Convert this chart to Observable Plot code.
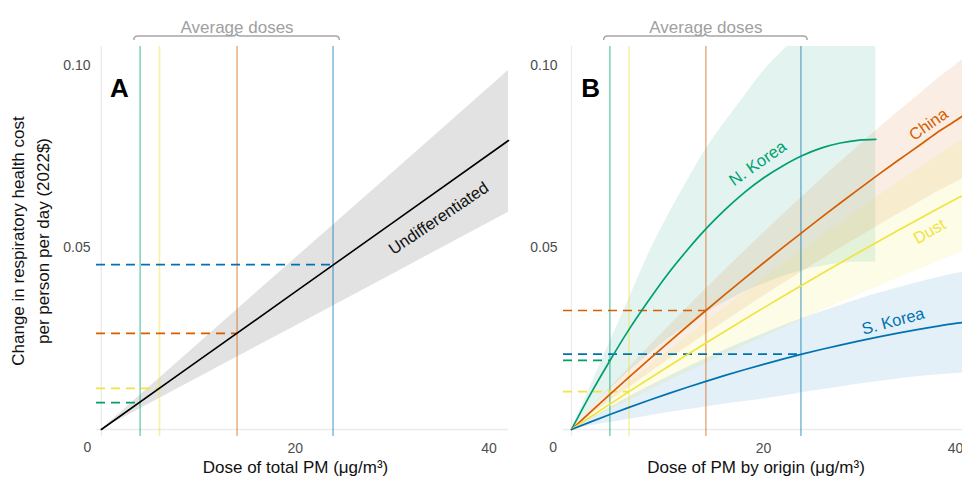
<!DOCTYPE html>
<html><head><meta charset="utf-8">
<script src="https://cdn.jsdelivr.net/npm/d3@7"></script>
<script src="https://cdn.jsdelivr.net/npm/@observablehq/plot@0.6"></script>
<style>
body{margin:0;background:#fff;}
#wrap{position:relative;width:962px;height:483px;overflow:hidden;font-family:"Liberation Sans",Arial,sans-serif;}
#wrap svg{position:absolute;top:0;overflow:visible;}
#ytitle{position:absolute;left:30.5px;top:241px;transform:translate(-50%,-50%) rotate(-90deg);white-space:nowrap;text-align:center;font-size:17px;line-height:25px;color:#111;}
</style></head><body><div id="wrap"><div id="ytitle">Change in respiratory health cost<br>per person per day (2022$)</div></div>
<script>
// ---- data ----
const sources = ["N. Korea", "China", "Dust", "S. Korea"];
const sourceColors = ["#009E73", "#D55E00", "#F0E442", "#0072B2"];
const avgDose = [4.0, 14.0, 6.0, 23.9];
const costAtDoseA = [0.0074, 0.0264, 0.0113, 0.0453];
const costAtDoseB = [0.0190, 0.0327, 0.0104, 0.0207];

// Panel A: undifferentiated
const doseA = [0, 10, 20, 30, 42];
const undiffMid = [0, 0.0189, 0.0378, 0.0567, 0.0794];
const undiffLo = [0, 0.0142, 0.0284, 0.0426, 0.0597];
const undiffHi = [0, 0.0235, 0.0470, 0.0704, 0.0986];

// Panel B: by origin
const doseNK = [0, 2, 4, 6, 8, 10, 12, 14, 16, 18, 20, 22, 24, 26, 28, 30, 31.7];
const nkMid = [0, 0.0098, 0.0189, 0.0275, 0.0353, 0.0426, 0.0491, 0.0551, 0.0604, 0.0651, 0.0691, 0.0724, 0.0752, 0.0773, 0.0787, 0.0795, 0.0797];
const nkLo = [0, 0.0057, 0.0110, 0.0160, 0.0205, 0.0247, 0.0285, 0.0320, 0.0350, 0.0378, 0.0400, 0.0420, 0.0437, 0.0448, 0.0456, 0.0460, 0.0460];
const nkHi = [0, 0.0120, 0.0240, 0.0360, 0.0480, 0.0585, 0.0680, 0.0770, 0.0845, 0.0915, 0.0985, 0.1040, 0.1090, 0.1135, 0.1180, 0.1220, 0.1250];

const doseB = [0, 2, 4, 6, 8, 10, 12, 14, 16, 18, 20, 22, 24, 26, 28, 30, 32, 34, 36, 38, 40, 41];
const chinaMid = [0, 0.00487, 0.00967, 0.01441, 0.01908, 0.02369, 0.02823, 0.0327, 0.03712, 0.04147, 0.04575, 0.04996, 0.0541, 0.0582, 0.06223, 0.06618, 0.07008, 0.0739, 0.0776, 0.0814, 0.0848, 0.0866];
const chinaLo = [0, 0.0039, 0.00774, 0.01153, 0.01526, 0.01895, 0.02258, 0.02616, 0.0297, 0.03318, 0.0366, 0.03997, 0.04328, 0.04656, 0.04978, 0.05294, 0.05606, 0.05912, 0.06208, 0.06512, 0.06784, 0.06928];
const chinaHi = [0, 0.00575, 0.01141, 0.0170, 0.02251, 0.02795, 0.03331, 0.03859, 0.0438, 0.04893, 0.05399, 0.05895, 0.06384, 0.06868, 0.07343, 0.07809, 0.08269, 0.0872, 0.09157, 0.09605, 0.10006, 0.1022];
const dustMid = [0, 0.0035, 0.00697, 0.0104, 0.01379, 0.01715, 0.02047, 0.02376, 0.02701, 0.03023, 0.03341, 0.03655, 0.03966, 0.04273, 0.04577, 0.04877, 0.05173, 0.05466, 0.05755, 0.06041, 0.06323, 0.0646];
const dustLo = [0, 0.00266, 0.0053, 0.0079, 0.01048, 0.01303, 0.01556, 0.01806, 0.02053, 0.02297, 0.02539, 0.02778, 0.03014, 0.03247, 0.03479, 0.03707, 0.03931, 0.04154, 0.04374, 0.04591, 0.04805, 0.0491];
const dustHi = [0, 0.00434, 0.00864, 0.0129, 0.0171, 0.02127, 0.02538, 0.02946, 0.03349, 0.03749, 0.04143, 0.04532, 0.04918, 0.05299, 0.05675, 0.06047, 0.06415, 0.06778, 0.07136, 0.07491, 0.0784, 0.0801];
const skMid = [0, 0.00209, 0.00412, 0.00608, 0.00797, 0.00979, 0.01155, 0.01324, 0.01487, 0.01642, 0.01791, 0.01933, 0.0207, 0.02198, 0.0232, 0.02436, 0.02544, 0.02647, 0.02742, 0.02831, 0.02914, 0.0295];
const skLo = [0, 0.0010, 0.0019, 0.0028, 0.0037, 0.0046, 0.0054, 0.0062, 0.0070, 0.0077, 0.0084, 0.0092, 0.0101, 0.0109, 0.0117, 0.0125, 0.0132, 0.0139, 0.0145, 0.0150, 0.0154, 0.0156];
const skHi = [0, 0.00307, 0.00606, 0.00894, 0.01172, 0.01439, 0.01698, 0.01946, 0.02186, 0.02414, 0.02633, 0.02842, 0.03043, 0.03231, 0.0341, 0.03581, 0.0374, 0.03891, 0.04031, 0.04162, 0.04284, 0.04337];

const yTicks = [0.05, 0.10];
const xTicks = [20, 40];

// ---- chart ----
const seriesB = [
  {x: doseNK, mid: nkMid, lo: nkLo, hi: nkHi},
  {x: doseB, mid: chinaMid, lo: chinaLo, hi: chinaHi},
  {x: doseB, mid: dustMid, lo: dustLo, hi: dustHi},
  {x: doseB, mid: skMid, lo: skLo, hi: skHi}
].map((s, i) => ({...s, name: sources[i], color: sourceColors[i]}));

const idx4 = d3.range(sources.length);
const gridColor = "#ebebeb";
const tickColor = "#4d4d4d";

function brace(xa, xb, xm) {
  return (index, scales, values, dim) => {
    const x1 = scales.x(xa), x2 = scales.x(xb), xc = scales.x(xm);
    const t = dim.marginTop;
    const yb = t - 10, ye = t - 6, yt = t - 13.5;
    const d = `M${x1},${ye} Q${x1},${yb} ${x1 + 4},${yb} L${xc - 4},${yb} Q${xc},${yb} ${xc},${yt} Q${xc},${yb} ${xc + 4},${yb} L${x2 - 4},${yb} Q${x2},${yb} ${x2},${ye}`;
    return d3.create("svg:path").attr("d", d).attr("fill", "none")
      .attr("stroke", "#a6a6a6").attr("stroke-width", 1.5).node();
  };
}

function common(letter, letterX, titleText, zeroX) {
  return {
    pre: [
      Plot.ruleX([0], {stroke: gridColor, strokeWidth: 1.3}),
      Plot.ruleY([0], {stroke: gridColor, strokeWidth: 1.3})
    ],
    doseLines: [
      Plot.ruleX(idx4, {x: i => avgDose[i], stroke: i => sourceColors[i], strokeOpacity: 0.5, strokeWidth: 1.5})
    ],
    post: [
      Plot.text([letter], {x: () => letterX, y: () => 0.0937, text: d => d, fontSize: 26, fontWeight: "bold", fill: "#000"}),
      brace(3.4, 24.6, 14.0),
      Plot.text(["Average doses"], {x: () => 14.0, frameAnchor: "top", dy: -26, fill: "#a0a0a0", fontSize: 17}),
      Plot.axisY({ticks: yTicks, tickFormat: d => d.toFixed(2), tickSize: 0, tickPadding: 6, fontSize: 14, fill: tickColor, label: null}),
      Plot.axisX({ticks: xTicks, tickSize: 0, tickPadding: 7, fontSize: 14, fill: tickColor, label: null}),
      Plot.text(["0"], {x: () => zeroX, frameAnchor: "bottom", lineAnchor: "top", dy: 6, fontSize: 14, fill: tickColor}),
      Plot.text([titleText], {frameAnchor: "bottom", dy: 36, dx: -7, fontSize: 17, fill: "#111"})
    ]
  };
}

const yDomain = [-0.00192, 0.10522];

// Panel A
const cA = common("A", 1.87, "Dose of total PM (μg/m³)", -1.45);
const idxA = d3.range(doseA.length);
const plotA = Plot.plot({
  width: 515, height: 483,
  marginLeft: 96, marginRight: 7, marginTop: 46, marginBottom: 47,
  x: {domain: [-0.5, 42]},
  y: {domain: yDomain},
  color: {type: "identity"},
  style: {fontFamily: "'Liberation Sans', Arial, sans-serif", background: "transparent", overflow: "visible"},
  marks: [
    ...cA.pre,
    Plot.areaY(idxA, {x: i => doseA[i], y1: i => undiffLo[i], y2: i => undiffHi[i], fill: "#e2e2e2"}),
    ...cA.doseLines,
    Plot.ruleY(idx4, {y: i => costAtDoseA[i], x1: () => -0.5, x2: i => avgDose[i], stroke: i => sourceColors[i], strokeWidth: 1.7, strokeDasharray: "9,6"}),
    Plot.line(idxA, {x: i => doseA[i], y: i => undiffMid[i], stroke: "#000", strokeWidth: 1.6}),
    Plot.text(["Undifferentiated"], {x: () => 34.8, y: () => 0.058, rotate: -34, fontSize: 16.5, fill: "#111"}),
    ...cA.post
  ]
});

// Panel B
const cB = common("B", 2.0, "Dose of PM by origin (μg/m³)", -1.9);
const labelB = [
  {x: 19.4, y: 0.0731, r: -35},
  {x: 37.2, y: 0.0838, r: -35},
  {x: 37.3, y: 0.0544, r: -30},
  {x: 33.5, y: 0.0297, r: -15}
];
const ribbonOpacity = [0.11, 0.11, 0.13, 0.11];
const plotB = Plot.plot({
  width: 447, height: 483,
  marginLeft: 48, marginRight: 0, marginTop: 46, marginBottom: 47,
  x: {domain: [-0.83, 40.73]},
  y: {domain: yDomain},
  color: {type: "identity"},
  style: {fontFamily: "'Liberation Sans', Arial, sans-serif", background: "transparent", overflow: "visible"},
  marks: [
    ...cB.pre,
    ...seriesB.map((s, k) => Plot.areaY(d3.range(s.x.length), {x: i => s.x[i], y1: i => s.lo[i], y2: i => s.hi[i], fill: s.color, fillOpacity: ribbonOpacity[k], curve: "monotone-x", clip: true})),
    ...cB.doseLines,
    Plot.ruleY(idx4, {y: i => costAtDoseB[i], x1: () => -0.83, x2: i => avgDose[i], stroke: i => sourceColors[i], strokeWidth: 1.7, strokeDasharray: "9,6"}),
    ...seriesB.map(s => Plot.line(d3.range(s.x.length), {x: i => s.x[i], y: i => s.mid[i], stroke: s.color, strokeWidth: 1.7, curve: "monotone-x", clip: true})),
    ...seriesB.map((s, k) => Plot.text([s.name], {x: () => labelB[k].x, y: () => labelB[k].y, rotate: labelB[k].r, fontSize: 16.5, fill: s.color})),
    ...cB.post
  ]
});

const wrap = document.getElementById("wrap");
plotA.style.left = "0px";
plotB.style.left = "515px";
wrap.insertBefore(plotA, wrap.firstChild);
wrap.insertBefore(plotB, wrap.firstChild.nextSibling);
</script>
</body></html>
